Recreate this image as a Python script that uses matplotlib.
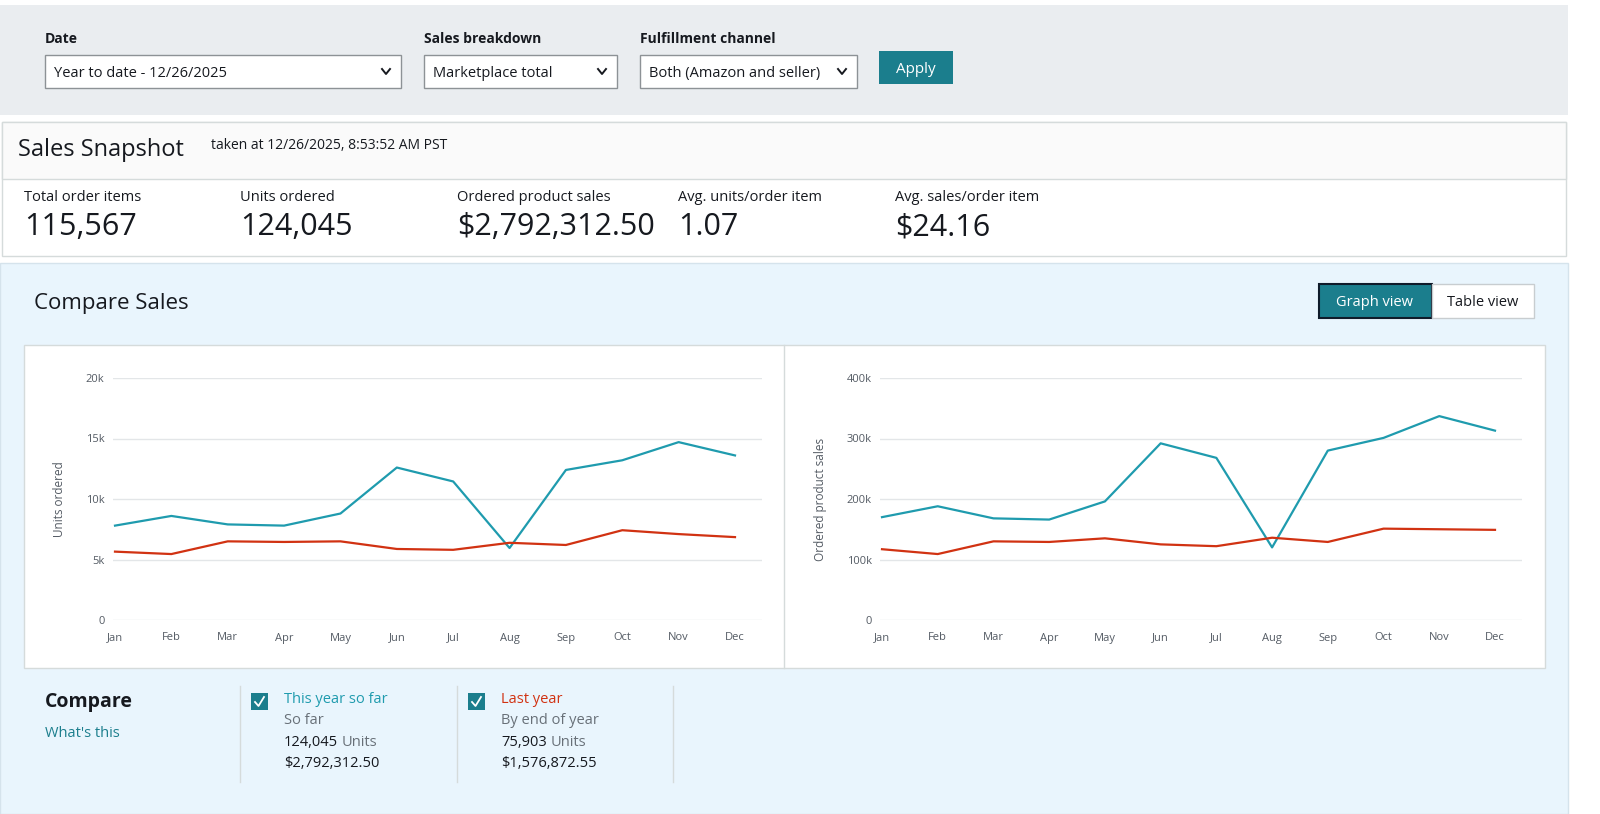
import matplotlib
matplotlib.use("Agg")
import matplotlib.pyplot as plt
from matplotlib.patches import Rectangle

plt.rcParams['font.family'] = ['Open Sans', 'DejaVu Sans']

months = ["Jan","Feb","Mar","Apr","May","Jun","Jul","Aug","Sep","Oct","Nov","Dec"]
units_this = [7800, 8600, 7900, 7800, 8800, 12600, 11450, 5950, 12400, 13200, 14700, 13600]
units_last = [5650, 5450, 6500, 6450, 6500, 5870, 5800, 6380, 6200, 7420, 7100, 6850]
sales_this = [170000, 188000, 168000, 166000, 196000, 292000, 268000, 120000, 280000, 301000, 337000, 313000]
sales_last = [117000, 109000, 130000, 129000, 135000, 125000, 122000, 136000, 129000, 151000, 150000, 149000]
units_ticks = [0, 5000, 10000, 15000, 20000]
units_ticklabels = ["0", "5k", "10k", "15k", "20k"]
sales_ticks = [0, 100000, 200000, 300000, 400000]
sales_ticklabels = ["0", "100k", "200k", "300k", "400k"]
kpi_labels = ["Total order items", "Units ordered", "Ordered product sales", "Avg. units/order item", "Avg. sales/order item"]
kpi_values = ["115,567", "124,045", "$2,792,312.50", "1.07", "$24.16"]

TEAL = "#1f9bae"
RED = "#d13212"
DARK = "#16191f"
W, H = 1600, 814
fig = plt.figure(figsize=(16, 8.14), dpi=100)
bg = fig.add_axes([0, 0, 1, 1])
bg.set_xlim(0, W); bg.set_ylim(H, 0); bg.axis('off')

def rect(x0, y0, x1, y1, fc, ec='none', lw=1, z=0):
    bg.add_patch(Rectangle((x0, y0), x1 - x0, y1 - y0, fc=fc, ec=ec, lw=lw, zorder=z))

def txt(x, y, s, size, color=DARK, weight='normal', ha='left', va='baseline'):
    bg.text(x, y, s, fontsize=size, color=color, fontweight=weight, ha=ha, va=va)

# top filter band
rect(0, 5, 1568, 115, "#eaedf0")
for x, lab in [(45, "Date"), (424, "Sales breakdown"), (640, "Fulfillment channel")]:
    txt(x, 43, lab, 10, weight='bold')
for x0, x1, lab in [(45, 401, "Year to date - 12/26/2025"), (424, 617, "Marketplace total"), (640, 857, "Both (Amazon and seller)")]:
    rect(x0, 55, x1, 88, "white", ec="#8d9296", z=1)
    txt(x0 + 9, 77, lab, 10.5)
    bg.plot([x1 - 19, x1 - 15, x1 - 11], [69, 74, 69], color=DARK, lw=1.4, zorder=2)
rect(879, 51, 953, 84, "#1b7e8d", z=1)
txt(916, 73, "Apply", 11, color="white", ha='center')

# snapshot
rect(2, 122, 1566, 256, "white", ec="#d5dbdb")
rect(2, 122, 1566, 179, "#fafafa", ec="#d5dbdb")
txt(18, 156, "Sales Snapshot", 17)
txt(211, 149, "taken at 12/26/2025, 8:53:52 AM PST", 10)
for x, lab, val in zip([24, 240, 457, 678, 895], kpi_labels, kpi_values):
    txt(x, 201, lab, 10.5)
    txt(x, 235, val, 22)

# compare section
rect(0, 263, 1568, 814, "#e9f5fd", ec="#d5e3ec")
txt(34, 309, "Compare Sales", 16)
rect(1319, 284, 1432, 318, "#1b7e8d", ec="#0f1b2a", lw=1.5, z=1)
txt(1375, 306, "Graph view", 10.5, color="white", ha='center')
rect(1432, 284, 1534, 318, "white", ec="#c8cdd0", z=1)
txt(1483, 306, "Table view", 10.5, ha='center')
rect(24, 345, 1545, 668, "white", ec="#d5dbdb")
bg.plot([784, 784], [345, 668], color="#d5dbdb", lw=1)

def chart(px0, px1, jan, dec, this, last, ticks, ticklabels, ylabel):
    per = (dec - jan) / 11
    ax = fig.add_axes([px0 / W, 1 - 620 / H, (px1 - px0) / W, (620 - 378) / H])
    ax.set_xlim(-(jan - px0) / per, 11 + (px1 - dec) / per)
    ax.set_ylim(0, ticks[-1])
    ax.patch.set_alpha(0)
    for s in ax.spines.values():
        s.set_visible(False)
    for t in ticks:
        ax.axhline(t, color="#e3e6e8", lw=1, zorder=0)
    ax.plot(range(12), this, color=TEAL, lw=1.6, zorder=3)
    ax.plot(range(12), last, color=RED, lw=1.6, zorder=3)
    ax.set_yticks(ticks); ax.set_yticklabels(ticklabels)
    ax.set_xticks(range(12)); ax.set_xticklabels(months)
    ax.tick_params(length=0, labelsize=8, colors="#545b64", pad=6)
    ax.tick_params(axis='x', pad=9)
    ax.set_ylabel(ylabel, fontsize=8.5, color="#545b64", labelpad=14)

chart(113, 762, 115, 735, units_this, units_last, units_ticks, units_ticklabels, "Units ordered")
chart(880, 1522, 882, 1495, sales_this, sales_last, sales_ticks, sales_ticklabels, "Ordered product sales")

# compare legend
txt(45, 707, "Compare", 14, weight='bold')
txt(45, 737, "What's this", 10.5, color="#1b7e8d")
for x in [240, 457, 673]:
    bg.plot([x, x], [686, 782], color="#d5dbdb", lw=1)
for cx, title, color, sub, units, money in [
        (251, "This year so far", TEAL, "So far", "124,045", "$2,792,312.50"),
        (468, "Last year", RED, "By end of year", "75,903", "$1,576,872.55")]:
    rect(cx, 693, cx + 17, 710, "#1b7e8d", z=1)
    bg.plot([cx + 4, cx + 7.5, cx + 13], [702, 706, 697], color="white", lw=1.3, zorder=2)
    txt(cx + 33, 703, title, 10.5, color=color)
    txt(cx + 33, 724, sub, 10.5, color="#687078")
    bg.text(cx + 33, 746, units, fontsize=10.5, color=DARK)
    txt(cx + 33 + len(units) * 7.6 + 4, 746, "Units", 10.5, color="#687078")
    txt(cx + 33, 767, money, 10.5)

fig.savefig("out.png", dpi=100, facecolor="white")
